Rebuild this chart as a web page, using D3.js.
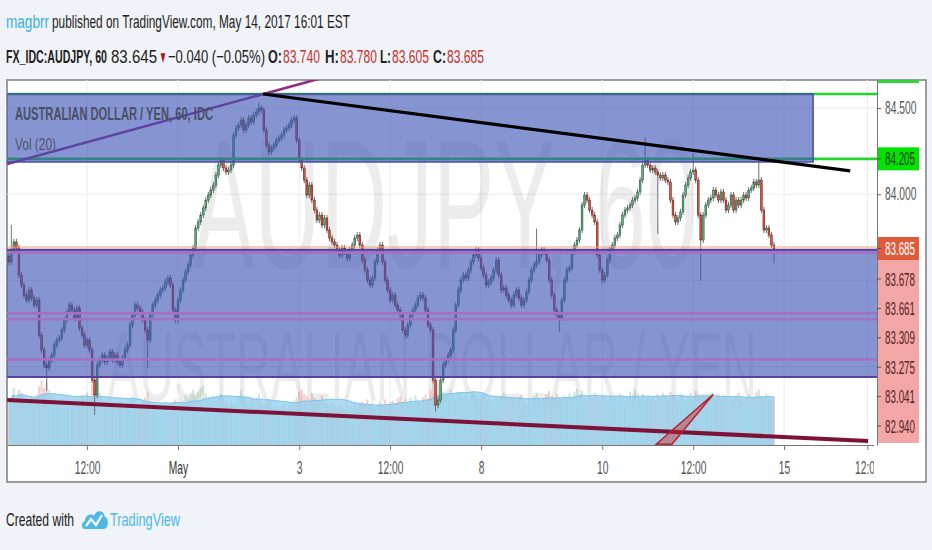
<!DOCTYPE html>
<html>
<head>
<meta charset="utf-8">
<script src="https://cdn.jsdelivr.net/npm/d3@7"></script>
<style>
  html, body { margin: 0; padding: 0; background: #f0f3f7; }
  svg { display: block; font-family: "Liberation Sans", Arial, sans-serif; }
</style>
</head>
<body>
<svg id="chart" width="932" height="550"></svg>
<script>
// ---- data (hourly bars, index 0 = first visible bar) ----
const firstOpen = 83.64;
const closes = [
  83.607, 83.676, 83.723, 83.688, 83.531, 83.473, 83.415, 83.386, 83.444, 83.398, 83.357, 83.386,
  83.183, 83.096, 83.009, 82.992, 83.038, 83.067, 83.125, 83.154, 83.166, 83.212, 83.270, 83.317,
  83.357, 83.328, 83.282, 83.340, 83.224, 83.183, 83.125, 83.154, 83.096, 82.922, 82.835, 83.009,
  83.038, 83.067, 83.027, 83.050, 83.085, 83.038, 83.067, 83.027, 83.009, 83.050, 83.096, 83.125,
  83.241, 83.299, 83.357, 83.340, 83.317, 83.270, 83.212, 83.154,
  83.299, 83.357, 83.386, 83.415, 83.444, 83.456, 83.491, 83.514, 83.473, 83.328, 83.270, 83.386,
  83.444, 83.502, 83.549, 83.589, 83.647, 83.688, 83.804, 83.839, 83.879, 83.920, 83.966, 83.995,
  84.024, 84.053, 84.111, 84.169, 84.198, 84.152, 84.129, 84.140, 84.169,
  84.343, 84.384, 84.401, 84.430, 84.372, 84.401, 84.442, 84.419, 84.459, 84.477, 84.500, 84.488,
  84.372, 84.285, 84.245, 84.268, 84.285, 84.314, 84.326, 84.343, 84.372, 84.384, 84.401, 84.430, 84.442,
  84.314, 84.198, 84.152, 84.082, 83.995, 84.053, 83.966, 83.908, 83.850, 83.879, 83.821, 83.862,
  83.792, 83.746, 83.723, 83.705, 83.676, 83.647, 83.688, 83.665, 83.630, 83.676, 83.705, 83.746,
  83.763, 83.705, 83.618, 83.560, 83.502, 83.473, 83.514, 83.607, 83.676, 83.705, 83.607, 83.502,
  83.444, 83.386, 83.415, 83.357, 83.328, 83.299, 83.212, 83.183, 83.241, 83.299, 83.328, 83.357,
  83.398, 83.415, 83.398, 83.328, 83.241, 83.212,
  82.922, 82.777, 82.806, 82.922, 83.009, 83.038, 83.067, 83.096, 83.212, 83.357, 83.444, 83.502,
  83.531, 83.514, 83.560, 83.607, 83.647, 83.676, 83.630, 83.572, 83.531, 83.473, 83.491, 83.514,
  83.560, 83.618, 83.531, 83.444, 83.456, 83.415, 83.386, 83.357, 83.415, 83.444, 83.398, 83.357,
  83.386, 83.433, 83.502, 83.560, 83.589, 83.607, 83.647, 83.676, 83.665, 83.618, 83.502, 83.415,
  83.328, 83.299, 83.282, 83.386, 83.502, 83.560, 83.572, 83.665, 83.705, 83.734, 83.792, 83.937,
  83.995, 83.966, 83.908, 83.879, 83.839, 83.647, 83.560, 83.502, 83.531, 83.618, 83.676, 83.705,
  83.746, 83.763, 83.821, 83.879, 83.908, 83.920, 83.937, 83.966, 83.978, 84.013, 84.082, 84.169,
  84.198, 84.169, 84.140, 84.152, 84.129, 84.111, 84.094, 84.111, 84.082, 84.071, 83.966, 83.879,
  83.839, 83.862, 83.897, 83.995, 84.053, 84.094, 84.129, 84.140, 84.082, 83.879, 83.734, 83.879,
  83.937, 83.966, 83.978, 84.024, 83.995, 83.966, 84.013, 83.966, 83.908, 83.937, 83.995, 83.908,
  83.966, 83.937, 83.966, 83.995, 83.978, 84.024, 84.036, 84.071, 84.053, 84.082, 83.908, 83.792,
  83.804, 83.763, 83.705, 83.685
];
// long wicks that stand out in the picture: [bar index, price]
const wickHigh = [[1, 83.821], [99, 84.53], [209, 83.80], [252, 84.33], [271, 84.24], [297, 84.19]];
const wickLow = [[15, 82.86], [34, 82.72], [55, 82.99], [169, 82.74], [218, 83.20], [257, 83.77], [274, 83.50], [303, 83.60]];

const volumes = [
  45, 52, 60, 48, 58, 55, 50, 47, 44, 49, 46, 53, 62, 68, 60, 66, 58, 52, 50, 47,
  44, 48, 42, 50, 45, 47, 43, 49, 46, 52, 48, 55, 50, 64, 72, 66, 55, 48, 45, 42,
  40, 44, 38, 42, 46, 41, 39, 45, 48, 52, 47, 44, 42, 46, 50, 55, 48, 44, 41, 39,
  37, 40, 43, 38, 42, 45, 48, 44, 50, 47, 52, 49, 55, 58, 52, 56, 60, 62, 55, 50,
  48, 52, 46, 50, 54, 49, 45, 43, 47, 44, 42, 52, 58, 50, 46, 44, 48, 45, 50, 54,
  46, 42, 45, 48, 44, 40, 42, 38, 41, 43, 39, 42, 44, 47, 50, 56, 58, 54, 52, 49,
  55, 50, 46, 48, 52, 47, 44, 42, 45, 41, 39, 43, 40, 38, 41, 37, 40, 42, 39, 43,
  46, 44, 48, 42, 45, 40, 43, 46, 44, 48, 42, 45, 47, 44, 49, 51, 46, 48, 45, 50,
  47, 52, 48, 45, 50, 53, 49, 58, 68, 74, 66, 60, 56, 52, 55, 58, 54, 50, 56, 52,
  50, 54, 48, 52, 55, 50, 46, 49, 53, 47, 51, 48, 45, 50, 47, 52, 55, 49, 46, 50,
  48, 45, 50, 52, 47, 44, 49, 46, 51, 55, 48, 45, 50, 53, 57, 52, 49, 54, 50, 47,
  52, 49, 54, 50, 56, 59, 53, 57, 50, 47, 52, 49, 55, 51, 48, 53, 50, 46, 52, 49,
  51, 48, 54, 50, 47, 52, 56, 53, 58, 55, 50, 54, 49, 52, 48, 51, 47, 53, 50, 55,
  52, 49, 56, 53, 50, 48, 54, 51, 47, 52, 55, 50, 57, 53, 49, 52, 48, 51, 54, 50,
  47, 52, 49, 53, 50, 46, 51, 48, 52, 55, 49, 46, 50, 53, 48, 51, 55, 58, 52, 50,
  54, 49, 47, 51
];

const tickIdx = [31, 67, 115, 151, 187, 235, 271, 307, 340];
const tickLabels = ['12:00', 'May', '3', '12:00', '8', '10', '12:00', '15', '12:00'];
const priceTicks = [84.5, 84.0];
const gridPrices = [84.5, 84.0, 83.5, 83.0];

const lastClose = 83.685;
const greenLevels = [84.581, 84.205];
const purpleLevels = [83.661, 83.309, 83.275, 83.041];
const stackedLabels = [83.678, 83.661, 83.309, 83.275, 83.041, 82.940];
const boxes = [
  { i0: -5, i1: 318.5, top: 84.581, bottom: 84.187 },
  { i0: -5, i1: 360, top: 83.678, bottom: 82.940 }
];
const purpleTrend = [[-0.7, 84.175], [123, 84.67]];
const blackTrend = [[100.7, 84.581], [333.2, 84.135]];
const maroonTrend = [[-0.7, 82.806], [340.3, 82.568]];
const redWedge = [[256.4, 82.55], [262.6, 82.55], [279, 82.84]];

// ---- layout ----
const W = 932, H = 550;
const plot = { left: 7, top: 80, right: 877, bottom: 445 };
const frame = { left: 7, top: 80, right: 926, bottom: 482 };

const x = d3.scaleLinear().domain([-0.713, 343.8]).range([plot.left, plot.right]);
const y = d3.scaleLinear().domain([82.5453, 84.6624]).range([plot.bottom, plot.top]);
const yVol = d3.scaleLinear().domain([0, 100]).range([plot.bottom, plot.bottom - 95]);
const step = x(1) - x(0);

const bars = closes.map((c, i) => {
  const o = i === 0 ? firstOpen : closes[i - 1];
  return { i, o, c, h: Math.max(o, c) + 0.018, l: Math.min(o, c) - 0.018, v: volumes[i] };
});
wickHigh.forEach(([i, p]) => { if (bars[i]) bars[i].h = p; });
wickLow.forEach(([i, p]) => { if (bars[i]) bars[i].l = p; });

const svg = d3.select('#chart');
svg.append('rect').attr('width', W).attr('height', H).attr('fill', '#f0f3f7');

function label(g, txt, x0, yb, len, opt = {}) {
  return g.append('text')
    .attr('x', x0).attr('y', yb).text(txt)
    .attr('textLength', len).attr('lengthAdjust', 'spacingAndGlyphs')
    .attr('font-size', opt.size || 18)
    .attr('font-weight', opt.bold ? 'bold' : 'normal')
    .attr('text-anchor', opt.anchor || 'start')
    .attr('fill', opt.fill || '#222');
}

// header
const head = svg.append('g');
label(head, 'magbrr', 6, 28, 43, { fill: '#3aaee0', size: 19 });
label(head, 'published on TradingView.com, May 14, 2017 16:01 EST', 52, 28, 298, { size: 19 });
label(head, 'FX_IDC:AUDJPY, 60', 6, 63, 101, { bold: true, size: 19 });
label(head, '83.645', 111, 63, 46, { size: 19 });
label(head, '\u25BC', 159, 63, 8, { fill: '#b3141c', size: 17 });
label(head, '\u22120.040 (\u22120.05%)', 168, 63, 97, { size: 19 });
const ohlc = [['O:', '83.740', 268, 283], ['H:', '83.780', 325, 340], ['L:', '83.605', 380, 392], ['C:', '83.685', 433, 447]];
ohlc.forEach(([k, v, kx, vx]) => {
  label(head, k, kx, 63, vx - kx - 1, { bold: true, size: 19 });
  label(head, v, vx, 63, 37, { fill: '#c8302e', size: 19 });
});

// chart frame
svg.append('rect')
  .attr('x', frame.left).attr('y', frame.top)
  .attr('width', frame.right - frame.left).attr('height', frame.bottom - frame.top)
  .attr('fill', '#fff').attr('stroke', '#7d7d7d').attr('stroke-width', 1.5);

const defs = svg.append('defs');
defs.append('clipPath').attr('id', 'plotClip').append('rect')
  .attr('x', plot.left).attr('y', plot.top)
  .attr('width', plot.right - plot.left).attr('height', plot.bottom - plot.top);
defs.append('clipPath').attr('id', 'xClip').append('rect')
  .attr('x', plot.left).attr('y', -1).attr('width', 867).attr('height', 36);

const g = svg.append('g').attr('clip-path', 'url(#plotClip)');

// grid
g.selectAll('.hgrid').data(gridPrices).join('line')
  .attr('x1', plot.left).attr('x2', plot.right)
  .attr('y1', d => y(d)).attr('y2', d => y(d))
  .attr('stroke', '#ebebeb');
g.selectAll('.vgrid').data(tickIdx).join('line')
  .attr('x1', d => x(d)).attr('x2', d => x(d))
  .attr('y1', plot.top).attr('y2', plot.bottom)
  .attr('stroke', '#ebebeb');

// watermark
g.append('text').text('AUDJPY, 60')
  .attr('x', 193).attr('y', 268).attr('font-size', 183)
  .attr('textLength', 504).attr('lengthAdjust', 'spacingAndGlyphs')
  .attr('fill', '#000').attr('fill-opacity', 0.075);
g.append('text').text('AUSTRALIAN DOLLAR / YEN')
  .attr('x', 107).attr('y', 401).attr('font-size', 98)
  .attr('textLength', 650).attr('lengthAdjust', 'spacingAndGlyphs')
  .attr('fill', '#000').attr('fill-opacity', 0.075);

// volume + Vol(20) average
g.selectAll('.vol').data(bars).join('rect')
  .attr('x', d => x(d.i) - step * 0.4).attr('width', step * 0.8)
  .attr('y', d => yVol(d.v)).attr('height', d => yVol(0) - yVol(d.v))
  .attr('fill', d => d.c >= d.o ? 'rgba(107,165,131,0.30)' : 'rgba(215,84,66,0.28)');
const volMa = bars.map((d, i) => ({ i, v: d3.mean(volumes.slice(Math.max(0, i - 19), i + 1)) }));
g.append('path').datum(volMa)
  .attr('d', d3.area().x(d => x(d.i)).y0(yVol(0)).y1(d => yVol(d.v)).curve(d3.curveStep))
  .attr('fill', '#8fcdee').attr('fill-opacity', 0.75);
g.append('path').datum(volMa)
  .attr('d', d3.line().x(d => x(d.i)).y(d => yVol(d.v)).curve(d3.curveStep))
  .attr('fill', 'none').attr('stroke', '#7cc4ea').attr('stroke-width', 1);

// candles
const candle = g.selectAll('.candle').data(bars).join('g');
candle.append('line')
  .attr('x1', d => x(d.i)).attr('x2', d => x(d.i))
  .attr('y1', d => y(d.h)).attr('y2', d => y(d.l))
  .attr('stroke', '#5f6168').attr('stroke-width', 0.9);
candle.append('rect')
  .attr('x', d => x(d.i) - step * 0.36).attr('width', step * 0.72)
  .attr('y', d => y(Math.max(d.o, d.c)))
  .attr('height', d => Math.max(1, Math.abs(y(d.o) - y(d.c))))
  .attr('fill', d => d.c >= d.o ? '#5fa87d' : '#d75442')
  .attr('stroke', d => d.c >= d.o ? '#225437' : '#5b1a13').attr('stroke-width', 0.5);

// drawings under the boxes
g.selectAll('.green').data(greenLevels).join('line')
  .attr('x1', plot.left).attr('x2', plot.right)
  .attr('y1', d => y(d)).attr('y2', d => y(d))
  .attr('stroke', '#22d62e').attr('stroke-width', 2.6);
const seg = d3.line().x(d => x(d[0])).y(d => y(d[1]));
g.append('path').attr('d', seg(purpleTrend))
  .attr('fill', 'none').attr('stroke', '#962c80').attr('stroke-width', 2.6);

// boxes
g.selectAll('.box').data(boxes).join('rect')
  .attr('x', d => x(d.i0)).attr('width', d => x(d.i1) - x(d.i0))
  .attr('y', d => y(d.top)).attr('height', d => y(d.bottom) - y(d.top))
  .attr('fill', 'rgb(62,82,182)').attr('fill-opacity', 0.62)
  .attr('stroke', '#4a48a8').attr('stroke-width', 1.5);

// levels inside the lower box
g.selectAll('.purple').data(purpleLevels).join('line')
  .attr('x1', plot.left).attr('x2', plot.right)
  .attr('y1', d => y(d)).attr('y2', d => y(d))
  .attr('stroke', '#a670c0').attr('stroke-width', 2.6);
g.selectAll('.edge').data([boxes[1].top, boxes[1].bottom]).join('line')
  .attr('x1', plot.left).attr('x2', plot.right)
  .attr('y1', d => y(d)).attr('y2', d => y(d))
  .attr('stroke', '#5a3f9e').attr('stroke-width', 2);

// last price line
g.append('line')
  .attr('x1', plot.left).attr('x2', plot.right)
  .attr('y1', y(lastClose) - 1.5).attr('y2', y(lastClose) - 1.5)
  .attr('stroke', '#f0a070').attr('stroke-width', 1);

// trend lines on top
g.append('path').attr('d', seg(blackTrend))
  .attr('fill', 'none').attr('stroke', '#000').attr('stroke-width', 3.2);
g.append('path').attr('d', seg(maroonTrend))
  .attr('fill', 'none').attr('stroke', '#7d1238').attr('stroke-width', 4);
g.append('path').attr('d', seg(redWedge) + 'Z')
  .attr('fill', 'rgba(200,40,50,0.45)').attr('stroke', '#b8222e').attr('stroke-width', 1.5);

// legend
label(g, 'AUSTRALIAN DOLLAR / YEN, 60, IDC', 15, 120, 198, { bold: true, fill: '#4a4f66' });
label(g, 'Vol (20)', 15, 150, 41, { fill: '#4f546c', size: 17 });

// x axis
const xAxis = d3.axisBottom(x).tickValues(tickIdx)
  .tickFormat((d, i) => tickLabels[i]).tickSize(5).tickSizeOuter(0).tickPadding(11);
const xg = svg.append('g').attr('transform', `translate(0,${plot.bottom})`)
  .attr('clip-path', 'url(#xClip)').call(xAxis)
  .attr('font-size', 18).attr('font-family', null);
xg.select('.domain').attr('stroke', '#777');
xg.selectAll('.tick line').attr('stroke', '#777');
xg.selectAll('.tick text').attr('fill', (d, i) => tickLabels[i] === 'May' ? '#333' : '#555')
  .attr('transform', 'scale(0.57,1)');

// price axis
const yAxis = d3.axisRight(y).tickValues(priceTicks).tickFormat(d3.format('.3f'))
  .tickSize(4).tickPadding(10).tickSizeOuter(0);
const yg = svg.append('g').attr('transform', `translate(${plot.right},0)`).call(yAxis)
  .attr('font-size', 18).attr('font-family', null);
yg.select('.domain').attr('stroke', '#777');
yg.selectAll('.tick line').attr('stroke', '#666');
yg.selectAll('.tick text').attr('fill', '#555').attr('transform', 'scale(0.57,1)');

const ax = svg.append('g');
const labW = 41, labX = plot.right + 1;
function priceTag(p, cy, fill, textFill) {
  ax.append('rect').attr('x', labX).attr('y', cy - 11.5).attr('width', labW).attr('height', 23).attr('fill', fill);
  ax.append('line').attr('x1', plot.right).attr('x2', plot.right + 4).attr('y1', cy).attr('y2', cy).attr('stroke', '#555');
  label(ax, d3.format('.3f')(p), plot.right + 8, cy + 6.5, 30, { fill: textFill });
}
// clipped tag of the top green level
ax.append('rect').attr('x', labX).attr('y', plot.top).attr('width', labW).attr('height', 3).attr('fill', '#2fd636');
priceTag(greenLevels[1], y(greenLevels[1]), '#00e400', '#153d15');
priceTag(lastClose, y(lastClose), '#e05a3c', '#fff');
// drawing labels stacked below the last price tag
const stackTop = y(lastClose) + 11.5;
ax.append('rect').attr('x', labX).attr('y', stackTop).attr('width', labW)
  .attr('height', plot.bottom - stackTop - 2).attr('fill', '#f3a6a6');
stackedLabels.forEach((p, k) => {
  const cy = stackTop + 19 + k * 29.4;
  ax.append('line').attr('x1', plot.right).attr('x2', plot.right + 4).attr('y1', cy).attr('y2', cy).attr('stroke', '#555');
  label(ax, d3.format('.3f')(p), plot.right + 8, cy + 6.5, 30, { fill: '#5a2424' });
});

// footer
const foot = svg.append('g');
label(foot, 'Created with', 6, 526, 68, { size: 19 });
const logo = foot.append('g').attr('transform', 'translate(82,507)');
logo.append('path')
  .attr('d', 'M3,22 C-1,22 -1,15 3,14 C3,8 9,6 12,9 C14,2 22,3 23,10 C27,11 27,22 22,22 Z')
  .attr('fill', '#4db8e8');
logo.append('polyline').attr('points', '4,19 9,12 14,18 20,8')
  .attr('fill', 'none').attr('stroke', '#fff').attr('stroke-width', 2.2);
label(foot, 'TradingView', 110, 526, 70, { fill: '#4db8e8', size: 19 });
</script>
</body>
</html>
